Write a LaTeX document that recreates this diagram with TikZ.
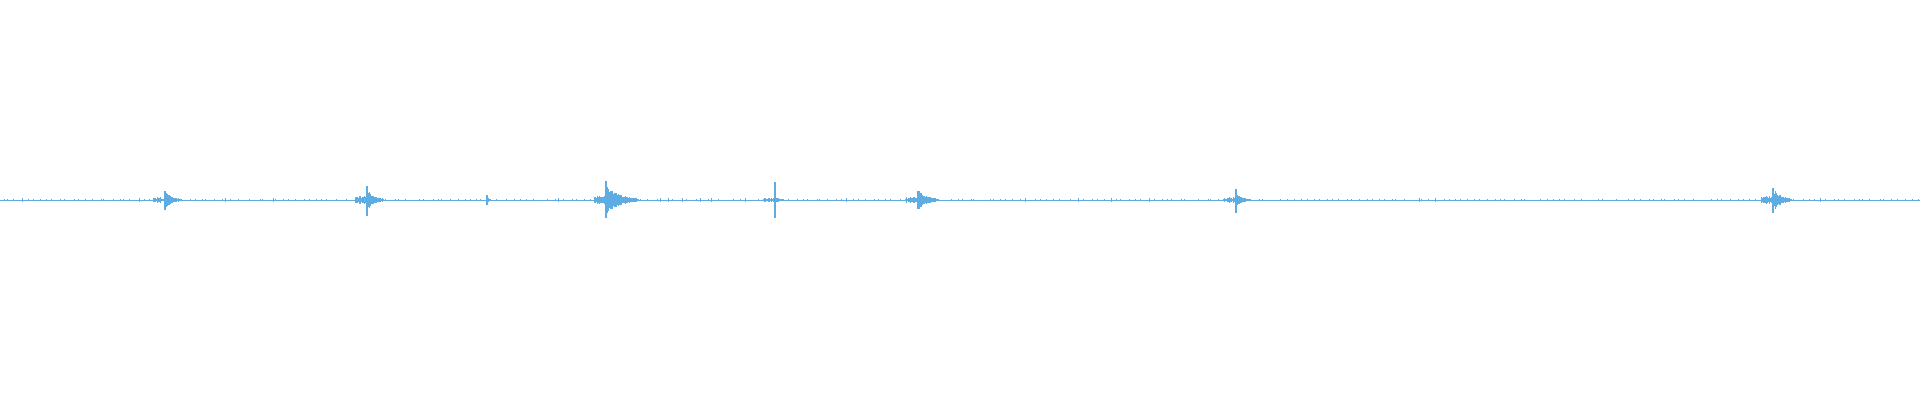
\documentclass[tikz,border=0pt]{standalone}
\definecolor{wave}{HTML}{5DADE2}
\tikzset{wv/.style={draw=wave,line width=1pt}}
\begin{document}
\begin{tikzpicture}[x=1pt,y=1pt]
\useasboundingbox (0,0) rectangle (1920,400);
\pgfmathsetseed{7}
\coordinate (L) at (0,200);
\coordinate (R) at (1920,200);
\draw[wv] (L) -- (R);
% small noise
\foreach \i in {0,...,300}{
  \pgfmathsetmacro{\xx}{\i*6.4+rnd*5}
  \pgfmathsetmacro{\aa}{0.4+rnd*1.2}
  \draw[wv,line width=0.6pt] (\xx,200-\aa) -- (\xx,200+\aa);
}
% bursts: x, pre-amp, amp, spike-up, spike-down, decay length
\foreach \bx/\pa/\am/\su/\sd/\dl in {165/3/9/9/10/16, 367/4/10/14/16/16, 487/0/3/5/5/3, 606/5/14/19/18/32, 775/2/3/18/18/8, 918/3/10/9/9/20, 1236/3/6/11/13/14, 1773/4/11/12/13/18}{
  \foreach \k in {-12,...,-1}{
    \pgfmathsetmacro{\xx}{\bx+\k}
    \pgfmathsetmacro{\aa}{\pa*(0.4+0.6*rnd)}
    \draw[wv,line width=0.8pt] (\xx,200-\aa) -- (\xx,200+\aa);
  }
  \draw[wv,line width=1.2pt] (\bx,200-\sd) -- (\bx,200+\su);
  \foreach \k in {1,...,\dl}{
    \pgfmathsetmacro{\xx}{\bx+\k}
    \pgfmathsetmacro{\aa}{\am*exp(-2.5*\k/\dl)*(0.6+0.4*rnd)+0.6}
    \draw[wv,line width=0.9pt] (\xx,200-\aa) -- (\xx,200+\aa);
  }
}
\end{tikzpicture}
\end{document}
